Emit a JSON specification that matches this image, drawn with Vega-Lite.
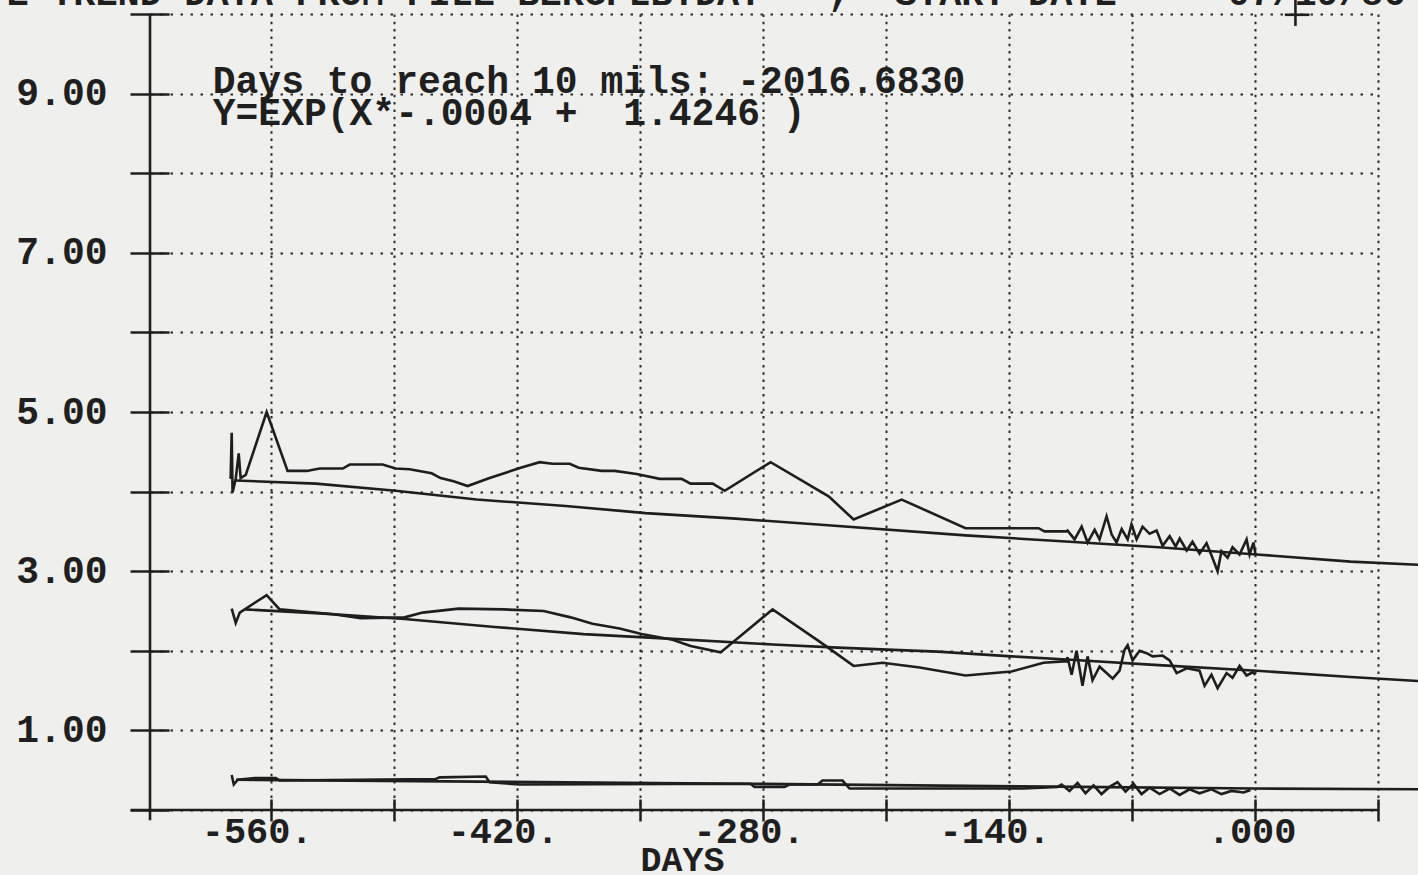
{
  "$schema": "https://vega.github.io/schema/vega-lite/v6.json",
  "width": 1228,
  "height": 796,
  "autosize": {"type": "none"},
  "padding": {"left": 150, "top": 14, "right": 40, "bottom": 65},
  "background": "#efefed",
  "config": {"view": {"stroke": null}, "font": "Liberation Mono"},
  "datasets": {
    "series": [
      {"s": "A", "d": -583.1, "v": 4.16}, {"s": "A", "d": -582.5, "v": 4.74}, {"s": "A", "d": -582.0, "v": 3.99},
      {"s": "A", "d": -580.2, "v": 4.16}, {"s": "A", "d": -578.5, "v": 4.48}, {"s": "A", "d": -577.4, "v": 4.17},
      {"s": "A", "d": -574.5, "v": 4.21}, {"s": "A", "d": -562.6, "v": 5.0}, {"s": "A", "d": -550.7, "v": 4.26},
      {"s": "A", "d": -539.8, "v": 4.26}, {"s": "A", "d": -532.4, "v": 4.29}, {"s": "A", "d": -519.3, "v": 4.29},
      {"s": "A", "d": -515.3, "v": 4.34}, {"s": "A", "d": -496.6, "v": 4.34}, {"s": "A", "d": -489.2, "v": 4.29},
      {"s": "A", "d": -481.2, "v": 4.28}, {"s": "A", "d": -468.7, "v": 4.23}, {"s": "A", "d": -463.6, "v": 4.17},
      {"s": "A", "d": -456.2, "v": 4.13}, {"s": "A", "d": -448.2, "v": 4.07}, {"s": "A", "d": -435.7, "v": 4.17},
      {"s": "A", "d": -418.0, "v": 4.3}, {"s": "A", "d": -407.2, "v": 4.37}, {"s": "A", "d": -399.8, "v": 4.35},
      {"s": "A", "d": -390.1, "v": 4.35}, {"s": "A", "d": -385.0, "v": 4.3}, {"s": "A", "d": -371.9, "v": 4.26},
      {"s": "A", "d": -364.5, "v": 4.26}, {"s": "A", "d": -352.0, "v": 4.22}, {"s": "A", "d": -338.9, "v": 4.16},
      {"s": "A", "d": -326.4, "v": 4.16}, {"s": "A", "d": -321.3, "v": 4.1}, {"s": "A", "d": -308.7, "v": 4.1},
      {"s": "A", "d": -301.9, "v": 4.01}, {"s": "A", "d": -275.7, "v": 4.37}, {"s": "A", "d": -242.7, "v": 3.94},
      {"s": "A", "d": -228.5, "v": 3.65}, {"s": "A", "d": -201.1, "v": 3.9}, {"s": "A", "d": -164.8, "v": 3.54},
      {"s": "A", "d": -123.2, "v": 3.54}, {"s": "A", "d": -119.8, "v": 3.5}, {"s": "A", "d": -107.3, "v": 3.5},
      {"s": "A", "d": -106.7, "v": 3.51}, {"s": "A", "d": -102.7, "v": 3.4}, {"s": "A", "d": -98.7, "v": 3.56},
      {"s": "A", "d": -95.3, "v": 3.36}, {"s": "A", "d": -91.3, "v": 3.52}, {"s": "A", "d": -88.5, "v": 3.4},
      {"s": "A", "d": -84.5, "v": 3.69}, {"s": "A", "d": -81.6, "v": 3.46}, {"s": "A", "d": -78.8, "v": 3.36},
      {"s": "A", "d": -75.9, "v": 3.53}, {"s": "A", "d": -72.5, "v": 3.4}, {"s": "A", "d": -70.3, "v": 3.59},
      {"s": "A", "d": -67.4, "v": 3.4}, {"s": "A", "d": -64.0, "v": 3.56}, {"s": "A", "d": -60.0, "v": 3.47},
      {"s": "A", "d": -56.0, "v": 3.51}, {"s": "A", "d": -52.6, "v": 3.32}, {"s": "A", "d": -48.6, "v": 3.44},
      {"s": "A", "d": -45.2, "v": 3.31}, {"s": "A", "d": -42.9, "v": 3.41}, {"s": "A", "d": -38.9, "v": 3.26},
      {"s": "A", "d": -35.6, "v": 3.37}, {"s": "A", "d": -31.6, "v": 3.22}, {"s": "A", "d": -27.6, "v": 3.35},
      {"s": "A", "d": -24.8, "v": 3.2}, {"s": "A", "d": -21.3, "v": 3.0}, {"s": "A", "d": -19.1, "v": 3.25},
      {"s": "A", "d": -15.6, "v": 3.17}, {"s": "A", "d": -12.8, "v": 3.3}, {"s": "A", "d": -8.8, "v": 3.21},
      {"s": "A", "d": -4.8, "v": 3.4}, {"s": "A", "d": -3.1, "v": 3.21}, {"s": "A", "d": -0.9, "v": 3.36},
      {"s": "A", "d": 0.3, "v": 3.21},

      {"s": "AF", "d": -580.2, "v": 4.14}, {"s": "AF", "d": -534.6, "v": 4.10}, {"s": "AF", "d": -489.2, "v": 4.01},
      {"s": "AF", "d": -443.1, "v": 3.90}, {"s": "AF", "d": -392.4, "v": 3.82}, {"s": "AF", "d": -346.9, "v": 3.73},
      {"s": "AF", "d": -295.7, "v": 3.66}, {"s": "AF", "d": -245.0, "v": 3.58}, {"s": "AF", "d": -164.8, "v": 3.45},
      {"s": "AF", "d": -112.4, "v": 3.38}, {"s": "AF", "d": -54.9, "v": 3.30}, {"s": "AF", "d": 0.9, "v": 3.21},
      {"s": "AF", "d": 54.4, "v": 3.12}, {"s": "AF", "d": 93.1, "v": 3.08},

      {"s": "B", "d": -582.5, "v": 2.53}, {"s": "B", "d": -580.2, "v": 2.35}, {"s": "B", "d": -577.9, "v": 2.48},
      {"s": "B", "d": -562.6, "v": 2.70}, {"s": "B", "d": -555.2, "v": 2.52}, {"s": "B", "d": -524.5, "v": 2.46},
      {"s": "B", "d": -509.1, "v": 2.41}, {"s": "B", "d": -484.1, "v": 2.42}, {"s": "B", "d": -473.8, "v": 2.48},
      {"s": "B", "d": -453.3, "v": 2.53}, {"s": "B", "d": -427.7, "v": 2.52}, {"s": "B", "d": -404.9, "v": 2.50},
      {"s": "B", "d": -389.6, "v": 2.42}, {"s": "B", "d": -377.1, "v": 2.34}, {"s": "B", "d": -361.7, "v": 2.28},
      {"s": "B", "d": -349.2, "v": 2.21}, {"s": "B", "d": -331.5, "v": 2.14}, {"s": "B", "d": -321.3, "v": 2.06},
      {"s": "B", "d": -304.2, "v": 1.98}, {"s": "B", "d": -274.6, "v": 2.52}, {"s": "B", "d": -245.6, "v": 2.08},
      {"s": "B", "d": -228.5, "v": 1.81}, {"s": "B", "d": -212.0, "v": 1.85}, {"s": "B", "d": -190.9, "v": 1.79},
      {"s": "B", "d": -164.8, "v": 1.69}, {"s": "B", "d": -138.6, "v": 1.74}, {"s": "B", "d": -120.4, "v": 1.85},
      {"s": "B", "d": -107.3, "v": 1.87}, {"s": "B", "d": -106.7, "v": 1.92}, {"s": "B", "d": -104.4, "v": 1.70},
      {"s": "B", "d": -101.6, "v": 2.0}, {"s": "B", "d": -98.2, "v": 1.56}, {"s": "B", "d": -95.3, "v": 1.93},
      {"s": "B", "d": -92.5, "v": 1.63}, {"s": "B", "d": -88.5, "v": 1.8}, {"s": "B", "d": -84.5, "v": 1.72},
      {"s": "B", "d": -81.0, "v": 1.65}, {"s": "B", "d": -77.1, "v": 1.75}, {"s": "B", "d": -74.3, "v": 2.01},
      {"s": "B", "d": -72.5, "v": 2.07}, {"s": "B", "d": -69.7, "v": 1.88}, {"s": "B", "d": -65.7, "v": 2.0},
      {"s": "B", "d": -61.7, "v": 1.97}, {"s": "B", "d": -58.3, "v": 1.93}, {"s": "B", "d": -52.6, "v": 1.94},
      {"s": "B", "d": -48.6, "v": 1.88}, {"s": "B", "d": -44.6, "v": 1.72}, {"s": "B", "d": -38.9, "v": 1.78},
      {"s": "B", "d": -31.6, "v": 1.75}, {"s": "B", "d": -28.7, "v": 1.56}, {"s": "B", "d": -24.8, "v": 1.7},
      {"s": "B", "d": -21.3, "v": 1.53}, {"s": "B", "d": -16.2, "v": 1.72}, {"s": "B", "d": -12.8, "v": 1.66},
      {"s": "B", "d": -8.8, "v": 1.81}, {"s": "B", "d": -4.8, "v": 1.69}, {"s": "B", "d": -1.4, "v": 1.73},
      {"s": "B", "d": 0.3, "v": 1.7},

      {"s": "BF", "d": -575.0, "v": 2.52}, {"s": "BF", "d": -532.4, "v": 2.47}, {"s": "BF", "d": -484.1, "v": 2.40},
      {"s": "BF", "d": -432.8, "v": 2.30}, {"s": "BF", "d": -382.2, "v": 2.21}, {"s": "BF", "d": -331.5, "v": 2.15},
      {"s": "BF", "d": -274.6, "v": 2.08}, {"s": "BF", "d": -237.6, "v": 2.04}, {"s": "BF", "d": -180.7, "v": 1.99},
      {"s": "BF", "d": -138.6, "v": 1.93}, {"s": "BF", "d": -107.3, "v": 1.89}, {"s": "BF", "d": -54.9, "v": 1.82},
      {"s": "BF", "d": 0.9, "v": 1.75}, {"s": "BF", "d": 54.4, "v": 1.67}, {"s": "BF", "d": 93.1, "v": 1.62},

      {"s": "C", "d": -582.5, "v": 0.44}, {"s": "C", "d": -581.3, "v": 0.32}, {"s": "C", "d": -579.0, "v": 0.38},
      {"s": "C", "d": -569.4, "v": 0.40}, {"s": "C", "d": -557.4, "v": 0.40}, {"s": "C", "d": -555.2, "v": 0.37},
      {"s": "C", "d": -466.4, "v": 0.39}, {"s": "C", "d": -464.1, "v": 0.41}, {"s": "C", "d": -437.9, "v": 0.42},
      {"s": "C", "d": -435.7, "v": 0.35}, {"s": "C", "d": -418.6, "v": 0.32}, {"s": "C", "d": -287.2, "v": 0.33},
      {"s": "C", "d": -284.9, "v": 0.29}, {"s": "C", "d": -267.8, "v": 0.29}, {"s": "C", "d": -265.0, "v": 0.32},
      {"s": "C", "d": -249.0, "v": 0.32}, {"s": "C", "d": -246.2, "v": 0.37}, {"s": "C", "d": -234.8, "v": 0.37},
      {"s": "C", "d": -230.8, "v": 0.27}, {"s": "C", "d": -131.7, "v": 0.27}, {"s": "C", "d": -112.4, "v": 0.29},
      {"s": "C", "d": -110.1, "v": 0.32}, {"s": "C", "d": -105.6, "v": 0.24}, {"s": "C", "d": -101.0, "v": 0.34},
      {"s": "C", "d": -96.5, "v": 0.21}, {"s": "C", "d": -91.9, "v": 0.31}, {"s": "C", "d": -87.4, "v": 0.2},
      {"s": "C", "d": -82.8, "v": 0.29}, {"s": "C", "d": -78.3, "v": 0.35}, {"s": "C", "d": -73.7, "v": 0.23},
      {"s": "C", "d": -69.2, "v": 0.33}, {"s": "C", "d": -64.6, "v": 0.2}, {"s": "C", "d": -60.0, "v": 0.28},
      {"s": "C", "d": -54.3, "v": 0.2}, {"s": "C", "d": -48.6, "v": 0.27}, {"s": "C", "d": -42.9, "v": 0.19},
      {"s": "C", "d": -37.3, "v": 0.26}, {"s": "C", "d": -31.6, "v": 0.21}, {"s": "C", "d": -24.8, "v": 0.26},
      {"s": "C", "d": -19.1, "v": 0.2}, {"s": "C", "d": -13.4, "v": 0.24}, {"s": "C", "d": -6.5, "v": 0.22},
      {"s": "C", "d": -2.6, "v": 0.25},

      {"s": "CF", "d": -580.0, "v": 0.38}, {"s": "CF", "d": -290.0, "v": 0.33}, {"s": "CF", "d": -100.0, "v": 0.29},
      {"s": "CF", "d": 0.0, "v": 0.27}, {"s": "CF", "d": 93.0, "v": 0.26}
    ],
    "rules": [
      {"x1": -640, "x2": 70, "y1": 0, "y2": 0},
      {"x1": -629, "x2": -629, "y1": -0.13, "y2": 10},
      {"x1": 23, "x2": 23, "y1": 9.85, "y2": 10.25},
      {"x1": 17, "x2": 31, "y1": 9.99, "y2": 9.99}
    ],
    "notes": [
      {"d": -593.3, "v": 9.01, "t": "Days to reach 10 mils: -2016.6830"},
      {"d": -593.3, "v": 8.6, "t": "Y=EXP(X*-.0004 +\u00a0\u00a01.4246 )"}
    ],
    "header": [
      {"d": 85.6, "v": 10.11, "t": "E TREND DATA FROM FILE BERGPLB.DAT\u00a0\u00a0\u00a0,\u00a0\u00a0START DATE\u00a0\u00a0=\u00a0\u00a007/19/86"}
    ]
  },
  "layer": [
    {
      "data": {"name": "series"},
      "mark": {"type": "line", "color": "#1e1e1e", "strokeWidth": 2.6},
      "encoding": {
        "x": {
          "field": "d", "type": "quantitative", "title": "DAYS",
          "scale": {"domain": [-629, 70], "nice": false, "zero": false},
          "axis": {
            "values": [-560, -490, -420, -350, -280, -210, -140, -70, 0, 70],
            "domain": false,
            "offset": -11,
            "tickSize": 22, "tickWidth": 2.5, "tickColor": "#1f1f1f",
            "grid": true, "gridColor": "#2a2a2a", "gridWidth": 2, "gridDash": [2.5, 4.8],
            "labelExpr": "datum.value == 0 ? '.000' : (datum.value % 140 == 0 ? datum.value + '.' : '')",
            "labelFont": "Liberation Mono", "labelFontSize": 37, "labelFontWeight": "bold", "labelColor": "#1f1f1f",
            "labelAlign": "right", "labelOffset": 41, "labelBaseline": "alphabetic", "labelPadding": 21,
            "labelOverlap": false, "labelFlush": false, "labelBound": false,
            "titleFont": "Liberation Mono", "titleFontSize": 35, "titleFontWeight": "bold", "titleColor": "#1f1f1f",
            "titleX": 532, "titleY": 71, "titleAlign": "center", "titleBaseline": "alphabetic"
          }
        },
        "y": {
          "field": "v", "type": "quantitative", "title": null,
          "scale": {"domain": [0, 10], "nice": false, "zero": false},
          "axis": {
            "values": [0, 1, 2, 3, 4, 5, 6, 7, 8, 9, 10],
            "domain": false,
            "offset": -19,
            "tickSize": 39, "tickWidth": 2.5, "tickColor": "#1f1f1f",
            "grid": true, "gridColor": "#2a2a2a", "gridWidth": 2, "gridDash": [2.5, 7.5],
            "labelExpr": "datum.value % 2 == 1 ? format(datum.value, '.2f') : ''",
            "labelFont": "Liberation Mono", "labelFontSize": 38, "labelFontWeight": "bold", "labelColor": "#1f1f1f",
            "labelAlign": "right", "labelBaseline": "middle", "labelPadding": 23,
            "labelOverlap": false, "labelFlush": false, "labelBound": false
          }
        },
        "detail": {"field": "s"}
      }
    },
    {
      "data": {"name": "rules"},
      "mark": {"type": "rule", "color": "#1f1f1f", "strokeWidth": 2.6},
      "encoding": {
        "x": {"field": "x1", "type": "quantitative", "title": "DAYS"},
        "x2": {"field": "x2"},
        "y": {"field": "y1", "type": "quantitative", "title": null},
        "y2": {"field": "y2"}
      }
    },
    {
      "data": {"name": "notes"},
      "mark": {"type": "text", "align": "left", "baseline": "alphabetic", "font": "Liberation Mono", "fontSize": 38, "fontWeight": "bold", "color": "#1f1f1f"},
      "encoding": {
        "x": {"field": "d", "type": "quantitative", "title": "DAYS"},
        "y": {"field": "v", "type": "quantitative", "title": null},
        "text": {"field": "t"}
      }
    },
    {
      "data": {"name": "header"},
      "mark": {"type": "text", "align": "right", "baseline": "alphabetic", "font": "Liberation Mono", "fontSize": 37, "fontWeight": "bold", "color": "#1f1f1f"},
      "encoding": {
        "x": {"field": "d", "type": "quantitative", "title": "DAYS"},
        "y": {"field": "v", "type": "quantitative", "title": null},
        "text": {"field": "t"}
      }
    }
  ]
}
